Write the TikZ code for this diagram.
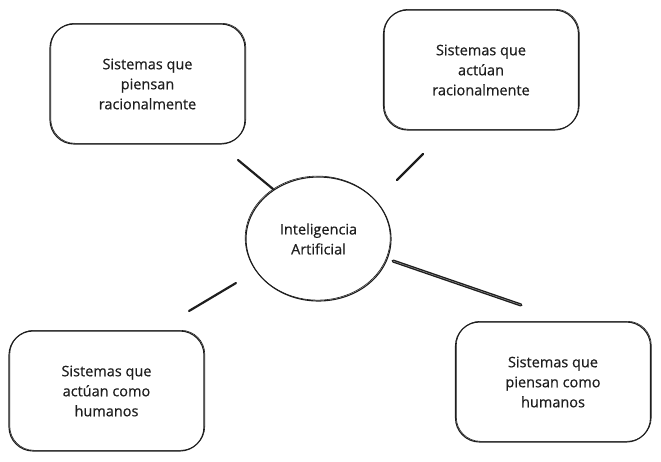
\documentclass[tikz,border=0pt]{standalone}
\usepackage{fontspec}
\setmainfont{Open Sans}[FakeBold=0.6]
\usetikzlibrary{shapes.geometric}
\definecolor{trazo}{HTML}{1E1E1E}
\definecolor{texto}{HTML}{1E1E1E}
\begin{document}
\begin{tikzpicture}[
       x=1pt, y=-1pt,
       caja/.style={draw=trazo, line width=1.1pt, rounded corners=24pt, minimum width=195pt, minimum height=120pt, align=center, text=texto, font=\fontsize{14.5}{20}\selectfont,
                    postaction={draw=trazo, line width=0.6pt, transform canvas={shift={(0.8pt,0.7pt)}}}}, % caja a mano alzada
       nucleo/.style={ellipse, draw=trazo, line width=1.1pt, minimum width=145pt, minimum height=124pt, align=center, text=texto, font=\fontsize{14.5}{20}\selectfont,
                    postaction={draw=trazo, line width=0.6pt, transform canvas={shift={(-0.8pt,0.9pt)}}}}, % circulo central
       rayo/.style={draw=trazo, line width=2.2pt, line cap=round}, % trazos sueltos
       rayodoble/.style={draw=trazo, line width=1.4pt, double=trazo!35, double distance=0.35pt, line cap=round}
   ]
   \useasboundingbox (0,0) rectangle (661,461);

   % 1. circulo central
   \node[nucleo] (ia) at (318.5,239) {Inteligencia\\Artificial};

   % 2. las cuatro cajas
   \node[caja] (pr) at (147.5,84)  {Sistemas que\\piensan\\racionalmente};
   \node[caja] (ar) at (481,70)    {Sistemas que\\actúan\\racionalmente};
   \node[caja] (ah) at (106.5,391) {Sistemas que\\actúan como\\humanos};
   \node[caja] (ph) at (553,382)   {Sistemas que\\piensan como\\humanos};

   % 3. trazos entre cajas y circulo (no llegan a tocarlos)
   \coordinate (pr1) at (238,160); \coordinate (pr2) at (273,189);
   \coordinate (ar1) at (423,154); \coordinate (ar2) at (397,180);
   \coordinate (ah1) at (236,283); \coordinate (ah2) at (189,311);
   \coordinate (ph1) at (393,261); \coordinate (ph2) at (521,305);

   \draw[rayo] (pr1) -- (pr2);
   \draw[rayo] (ar1) -- (ar2);
   \draw[rayo] (ah1) -- (ah2);
   \draw[rayodoble] (ph1) -- (ph2);

   \end{tikzpicture}
\end{document}
